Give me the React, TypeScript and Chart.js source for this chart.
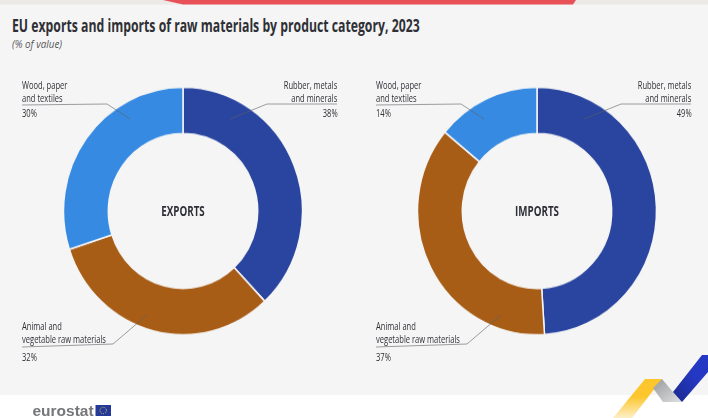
import React, { useEffect, useRef } from "react";
import { Chart, registerables } from "chart.js";

Chart.register(...registerables);

const categories = ["Rubber, metals\nand minerals", "Animal and\nvegetable raw materials", "Wood, paper\nand textiles"];
const exportShares = [38, 32, 30];
const importShares = [49, 37, 14];
const sliceColors = ["#2A45A0", "#A85D17", "#368AE2"];
const panelNames = ["EXPORTS", "IMPORTS"];

const TEXT = "#2f3036";
const FONT = '"Open Sans", sans-serif';

// Open Sans squeezed horizontally to give the condensed look of the labels.
function Squeezed({
  children, x, y, side = "left", squeeze = 0.72, font, color = TEXT,
}: {
  children: React.ReactNode; x: number; y: number; side?: "left" | "right" | "center";
  squeeze?: number; font: string; color?: string;
}) {
  const style: React.CSSProperties = {
    position: "absolute", top: y, font, color, whiteSpace: "pre", textAlign: side, transformOrigin: `${side} top`,
  };
  if (side === "left") { style.left = x; style.transform = `scaleX(${squeeze})`; }
  if (side === "right") { style.right = 708 - x; style.transform = `scaleX(${squeeze})`; }
  if (side === "center") { style.left = x; style.transform = `translateX(-50%) scaleX(${squeeze})`; }
  return <div style={style}>{children}</div>;
}

function Donut({ values, name, cx }: { values: number[]; name: string; cx: number }) {
  const ref = useRef<HTMLCanvasElement>(null);
  useEffect(() => {
    const chart = new Chart(ref.current!, {
      type: "doughnut",
      data: {
        labels: categories,
        datasets: [{ data: values, backgroundColor: sliceColors, borderColor: "#f5f5f5", borderWidth: 1.5 }],
      },
      options: {
        animation: false,
        responsive: false,
        radius: 119.5,
        cutout: "62.5%",
        layout: { padding: 0 },
        plugins: { legend: { display: false }, tooltip: { enabled: false } },
      },
    });
    return () => chart.destroy();
  }, [values]);
  return (
    <>
      <canvas
        ref={ref}
        width={244}
        height={244}
        style={{ position: "absolute", left: cx - 122, top: 88.5, width: 244, height: 244, transform: "scaleY(1.036)" }}
      />
      <Squeezed x={cx} y={201} side="center" font={`bold 14px ${FONT}`} squeeze={0.7}>{name}</Squeezed>
    </>
  );
}

function Callouts({ values, dx }: { values: number[]; dx: number }) {
  const font = `500 10.5px/12.5px ${FONT}`;
  return (
    <>
      <Squeezed x={22 + dx} y={79} font={font}>{categories[2]}</Squeezed>
      <Squeezed x={22 + dx} y={107} font={font}>{values[2]}%</Squeezed>
      <Squeezed x={337.5 + dx} y={79} side="right" font={font}>{categories[0]}</Squeezed>
      <Squeezed x={337.5 + dx} y={107} side="right" font={font}>{values[0]}%</Squeezed>
      <Squeezed x={22 + dx} y={320} font={font}>{categories[1]}</Squeezed>
      <Squeezed x={22 + dx} y={351} font={font}>{values[1]}%</Squeezed>
      <svg width={708} height={418} style={{ position: "absolute", left: dx, top: 0, overflow: "visible" }}>
        <g fill="none" stroke="#5d6068" strokeOpacity={0.6} strokeWidth={1}>
          <polyline points="22,105 107,104 130,119" />
          <polyline points="337,104 267,104 230,119" />
          <polyline points="22,347 113,344 147,315" />
        </g>
      </svg>
    </>
  );
}

export default function App() {
  useEffect(() => {
    document.body.style.margin = "0";
  }, []);
  return (
    <div style={{ position: "relative", width: 708, height: 418, background: "#fff", overflow: "hidden" }}>
      <div style={{ position: "absolute", left: 0, top: 0, width: 708, height: 395, background: "#f5f5f5" }} />
      <svg width={708} height={418} style={{ position: "absolute", left: 0, top: 0 }}>
        <defs>
          <linearGradient id="gold" x1="0" y1="0" x2="0" y2="1">
            <stop offset="0.45" stopColor="#fdc62d" />
            <stop offset="1" stopColor="#fdf0c8" />
          </linearGradient>
          <linearGradient id="steel" x1="0" y1="0" x2="1" y2="1">
            <stop offset="0" stopColor="#98999c" />
            <stop offset="1" stopColor="#dfe0e1" />
          </linearGradient>
          <linearGradient id="cobalt" x1="0" y1="1" x2="1" y2="0">
            <stop offset="0" stopColor="#1c2a8c" />
            <stop offset="0.6" stopColor="#2438c4" />
          </linearGradient>
        </defs>
        <rect x={0} y={0} width={708} height={4.5} fill="#eceae7" />
        <polygon points="163,0 576,0 573,4.5 183,4.5" fill="#e85158" />
        <polygon points="645,379 662,379 632,418 613,418" fill="url(#gold)" />
        <polygon points="662,379 673,392 682,402 663,402 653,388" fill="url(#steel)" />
        <polygon points="702,355 708,355 708,372 682,402 673,392" fill="url(#cobalt)" />
        <rect x={95.5} y={405} width={15.5} height={11} fill="#25399a" />
        <circle cx={103.2} cy={410.5} r={3.2} fill="none" stroke="#d8c050" strokeWidth={1} strokeDasharray="1 1" />
      </svg>
      <Squeezed x={12} y={13} font={`bold 18px ${FONT}`} squeeze={0.68}>
        EU exports and imports of raw materials by product category, 2023
      </Squeezed>
      <Squeezed x={12} y={36} font={`italic 11px ${FONT}`} color="#55565c" squeeze={0.89}>(% of value)</Squeezed>
      <Donut values={exportShares} name={panelNames[0]} cx={183} />
      <Donut values={importShares} name={panelNames[1]} cx={536.5} />
      <Callouts values={exportShares} dx={0} />
      <Callouts values={importShares} dx={354} />
      <div style={{ position: "absolute", left: 32.5, top: 402, font: `bold 15.5px "Liberation Sans", sans-serif`, color: "#75767a", whiteSpace: "pre" }}>
        eurostat
      </div>
    </div>
  );
}
